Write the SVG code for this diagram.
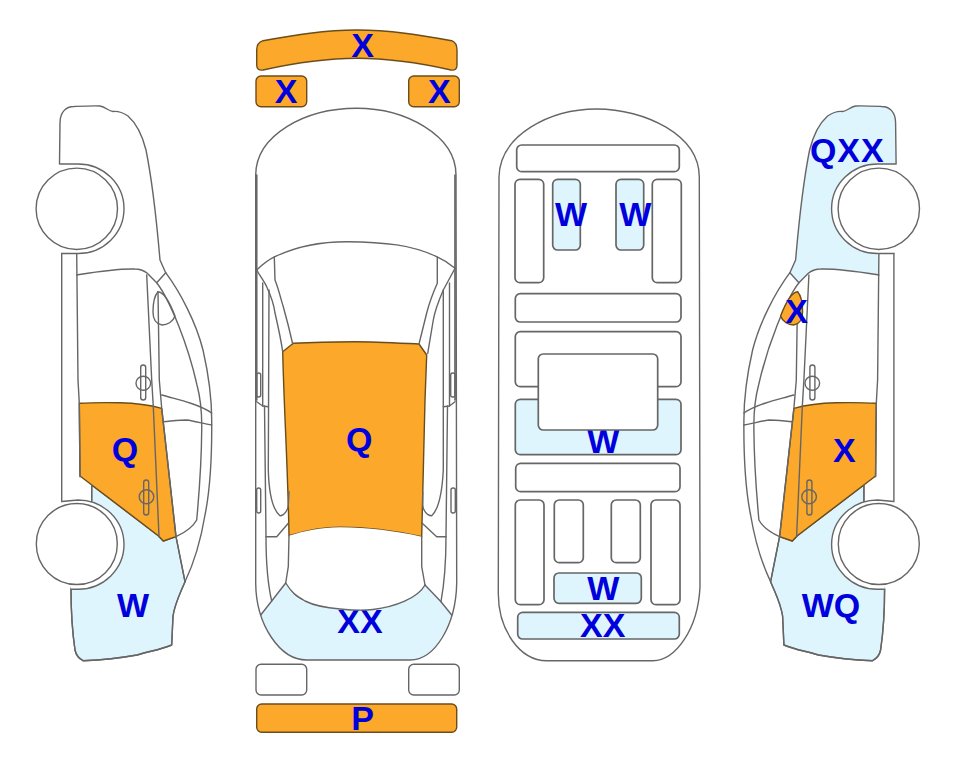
<svg xmlns="http://www.w3.org/2000/svg" xmlns:xlink="http://www.w3.org/1999/xlink" width="963" height="768" viewBox="0 0 963 768">
<style>
.l{fill:none;stroke:#666;stroke-width:1.4;stroke-linejoin:round;stroke-linecap:round}
.w{fill:#fff;stroke:#666;stroke-width:1.4}
.b{fill:#dff5fe;stroke:#666;stroke-width:1.4;stroke-linejoin:round}
.o{fill:#fca82a;stroke:#6a4d1c;stroke-width:1.4;stroke-linejoin:round}
.bn{fill:#dff5fe;stroke:none}
.r{stroke-width:1.7}
text{font-family:"Liberation Sans",Arial,sans-serif;font-weight:700;font-size:34px;fill:#0000dc;text-anchor:middle;transform:translateY(-1px)}
</style>
<defs>
<path id="side-top-area" d="M59.500,164L60,123C60,112 66,106.500 74,106.500C85,106 95,105.500 100,106C106,107 108,111 113,111.500C118,111 122,112 128,116C137,124 143,138 146,150C152,180 157,225 160,260L165.700,272.700L156.700,282.700L145,271.700C141,269 138,269 135,269C115,268.500 95,272 76.700,275L76.700,253.500Z"/>
<path id="side-low-area" d="M91.700,485L158.300,535.700L163.300,541L176,536.700L185,581.700C180,594 175,603 173,616L171.700,645C160,650 150,651 137,655C115,659 100,660 83,660.700C78,658 76,655 75,650C72,630 71,612 71,589L91.700,501Z"/>
<path id="side-door" d="M79.300,403.300C92,402.500 108,402.500 120,402.700C135,403 150,405 161.700,408.300L166.700,453L176,536.700L163.300,541L158.300,535.700L80,476Z"/>
<path id="side-mirror" d="M158,291.700C164,292 170,303 175,316C173,322 167,325 162,325C156,324 153,319 153,312C153,303 154,296 158,291.700Z"/>
<g id="side-lines" class="l">
<path d="M59.500,164L60,123C60,112 66,106.500 74,106.500C85,106 95,105.500 100,106C106,107 108,111 113,111.500C118,111 122,112 128,116C137,124 143,138 146,150C152,180 157,225 160,260L165.700,272.700C180,292 196,322 203,350C208,372 211.700,395 211.700,420C212,455 210,490 205,515C200,545 193,565 185,581.700C180,594 175,603 173,616L171.700,645C160,650 150,651 137,655C115,659 100,660 83,660.700C78,658 76,655 75,650C72,630 71,612 71,589"/>
<path d="M61.700,253.500L61.700,501.700M76.700,253.500L78,380L79.300,403.300L80,476.700M91.700,485L91.700,501"/>
<path d="M76.700,275C95,272 115,268.500 135,269C140,269 143,270 147,273L156.700,282.700C170,300 188,345 197,385C201,400 202,415 201.700,430C201.500,465 199,495 196.700,520C193,527 186,532 176,536.700"/>
<path d="M165.700,272.700L156.700,282.700M146.700,275L151.700,380L153.300,406.700L159,536.700M158,291.700L159.300,380L161.700,408.300L166.700,453L176,536.700L185,581.700"/>
<path d="M161.700,395C172,398 182,400 190,403C199,406 206,409 211.700,413M163.300,421.700C172,421 180,420 186.700,420C195,421 204,424 211.700,425"/>
</g>
<g id="side-handles" class="l">
<rect x="140.700" y="365" width="5" height="35" rx="2.500"/>
<ellipse cx="143.300" cy="383.300" rx="7.300" ry="7"/>
<rect x="143.700" y="480" width="5" height="35" rx="2.500"/>
<ellipse cx="146.500" cy="496.700" rx="7.300" ry="7"/>
</g>
<g id="side-wheels">
<path class="w" d="M59.500,164L78,164A46,44.750 0 0 1 78,253.500L61,253.500"/>
<circle class="w" cx="76.800" cy="208.800" r="40.700"/>
<path class="w" d="M61.700,501.500L78,500A46,44.600 0 0 1 78,589.200L71,589.200"/>
<circle class="w" cx="76.800" cy="544" r="40.500"/>
</g>
</defs>

<g id="side-left">
<use xlink:href="#side-low-area" class="b"/>
<use xlink:href="#side-door" class="o"/>
<use xlink:href="#side-lines"/>
<use xlink:href="#side-mirror" class="l"/>
<use xlink:href="#side-handles"/>
<use xlink:href="#side-wheels"/>
<text x="125" y="462">Q</text>
<text x="133" y="618.300">W</text>
</g>

<g id="top-view">
<path class="o" d="M256.700,50C256.700,45 259,42 263,40.700C295,35 325,30 356.700,30C390,30 420,35 451.700,40.700C455,42 457,45 457,50L457,65C457,69 455,70.500 451,70C420,63 390,58.300 356.700,58.300C325,58.300 295,63 263,70C259,70.500 256.700,69 256.700,65Z"/>
<rect class="o" x="256" y="76" width="50.700" height="30.700" rx="5"/>
<rect class="o" x="408.700" y="76" width="50.600" height="30.700" rx="5"/>
<text x="362.700" y="57.700">X</text>
<text x="286" y="104">X</text>
<text x="439.300" y="104">X</text>

<path class="bn" d="M260.700,615L271.700,601L285.700,583L425,585L441,601.700L451.700,615C442,640 430,660 410,660L306.700,660C285,660 270,640 260.700,615Z"/>
<path class="o" d="M282.700,351.700L293.300,343.300C315,342 335,341.700 355,341.700C375,341.700 398,343 419,344L426.700,355L425,400L421.700,536.700C395,531 368,527.300 340,527.300C320,527.300 305,531 289,535.700C288,470 284,410 282.700,351.700Z"/>
<text x="359.300" y="451.700">Q</text>
<text x="360" y="634">XX</text>
<path fill="#fff" stroke="none" d="M289,535.700C305,531 320,527.300 340,527.300C368,527.300 395,531 421.700,536.700L421.700,566.700L425,585C418,597 400,605 373,609.500C360,610.500 350,610 340,609C320,606 305,604 296.700,598C292,593 288,589 285.700,583L288.300,566.700Z"/>
<g class="l">
<path d="M255.700,370L255.700,175C256,135 305,108.300 356.700,108.300C405,108.300 456,135 456,175L456.700,583C456,625 435,660 410,660L306.700,660C280,660 256,625 255.700,583L255.700,370"/>
<path class="r" d="M256.700,175L256.700,400M455,175L455,400"/>
<path d="M256.700,270C265,262 270,259 275,256.700C297,246 322,241.700 346.700,241.700C385,242 412,245 436.700,256.700C444,260 450,264 455,268.300"/>
<path d="M256.700,270C260,276 264,281 266.700,286.700C271,296 274,305 275,313C278,326 281,340 282.700,351.700"/>
<path d="M274.300,256.700L275,280C279,290 281,300 283.300,306.700C287,320 290,332 292.700,344"/>
<path d="M437.300,257.300L437.300,283.300C433,293 429,304 426.700,313L419,344"/>
<path d="M455,268.300C451,276 447,283 443.300,290C439,300 435,310 433.300,320L427.700,353.300"/>
<path d="M262.700,283L262.700,406M269,290L268.300,470C269,495 273,510 280,515.700C284,516 288,510 288.300,505L289,491.700"/>
<path d="M449.500,283L449.500,406M443.300,290L443.300,470C442,495 438,510 431.700,515.700C427,516 423,510 422.700,505L422.700,491.700"/>
<path d="M256.700,401.700L262.700,406L268.300,406.700M455,401.700L449.500,406L443.300,406.700"/>
<path d="M264.500,406L266,536.700C266,560 268,585 271.700,601M447.500,406L446,536.700C446,560 444,585 441,601.700"/>
<path d="M266,536.700L276.700,536.700L288.300,523.300M446,536.700L436.700,536.700L421.700,522.700"/>
<path d="M289,535.700L288.300,566.700L285.700,583M421.700,536.700L421.700,566.700L425,585"/>
<path d="M285.700,583C292,593 296,596 305,601C315,606 328,608 340,609C355,610.500 365,610.500 373,609.500C395,607 418,598 425,585"/>
<path d="M260.700,615L271.700,601L285.700,583M451.700,615L441,601.700L425,585"/>
<rect x="256.700" y="373" width="4" height="24" rx="2"/>
<rect x="256.700" y="488" width="4" height="25" rx="2"/>
<rect x="450.700" y="373" width="4.300" height="24" rx="2"/>
<rect x="451" y="488" width="4.300" height="25" rx="2"/>
</g>
<rect class="w" x="256" y="664.300" width="50.700" height="30.700" rx="5"/>
<rect class="w" x="408.700" y="664.300" width="50.600" height="30.700" rx="5"/>
<rect class="o" x="256.700" y="704" width="200" height="28.300" rx="5"/>
<text x="362.700" y="731">P</text>
</g>

<g id="inside-view">
<path class="l" d="M499,176.700C500,135 550,109 596.700,109C645,109 699,135 699.300,176.700L700,586.700C698,630 675,660.700 653,660.700L546.700,660.700C520,660.700 498,630 498.300,593Z"/>
<g class="l r">
<rect x="516.700" y="145" width="162.600" height="26.700" rx="5"/>
<rect x="515" y="179.300" width="28.700" height="103.400" rx="5"/>
<rect x="652.300" y="179.300" width="29" height="103.400" rx="5"/>
<rect x="515.300" y="293.700" width="165.700" height="28.300" rx="5"/>
<rect x="515.300" y="331.700" width="165.700" height="55" rx="5"/>
<rect x="515.700" y="463.300" width="164.300" height="28.400" rx="5"/>
<rect x="515.300" y="500" width="28.700" height="104.700" rx="5"/>
<rect x="554.300" y="500" width="29" height="62.700" rx="5"/>
<rect x="611.300" y="500" width="29" height="62.700" rx="5"/>
<rect x="651" y="500" width="29" height="104.700" rx="5"/>
</g>
<g class="b r">
<rect x="552.700" y="179.300" width="27.600" height="70.700" rx="5"/>
<rect x="616" y="179.300" width="27.700" height="70.700" rx="5"/>
<rect x="515.300" y="399.300" width="165.700" height="55.400" rx="5"/>
<rect x="554" y="573" width="87.300" height="30.300" rx="5"/>
<rect x="517.700" y="612.300" width="161.600" height="26.700" rx="5"/>
</g>
<text x="571" y="226.700">W</text>
<text x="635.300" y="226.700">W</text>
<text x="603.300" y="454.300">W</text>
<rect class="w r" x="538.300" y="354" width="119.400" height="76" rx="5"/>
<text x="603.300" y="600.700">W</text>
<text x="602.700" y="638.300">XX</text>
</g>

<g id="side-right">
<g transform="translate(955.600,0) scale(-1,1)">
<use xlink:href="#side-top-area" class="bn"/>
<use xlink:href="#side-low-area" class="b"/>
<use xlink:href="#side-door" class="o"/>
<use xlink:href="#side-lines"/>
<use xlink:href="#side-mirror" class="o"/>
<use xlink:href="#side-handles"/>
<use xlink:href="#side-wheels"/>
</g>
<text x="847.300" y="162.700" letter-spacing="1">QXX</text>
<text x="796.700" y="324">X</text>
<text x="844.300" y="462.700">X</text>
<text x="831" y="618">WQ</text>
</g>
</svg>
